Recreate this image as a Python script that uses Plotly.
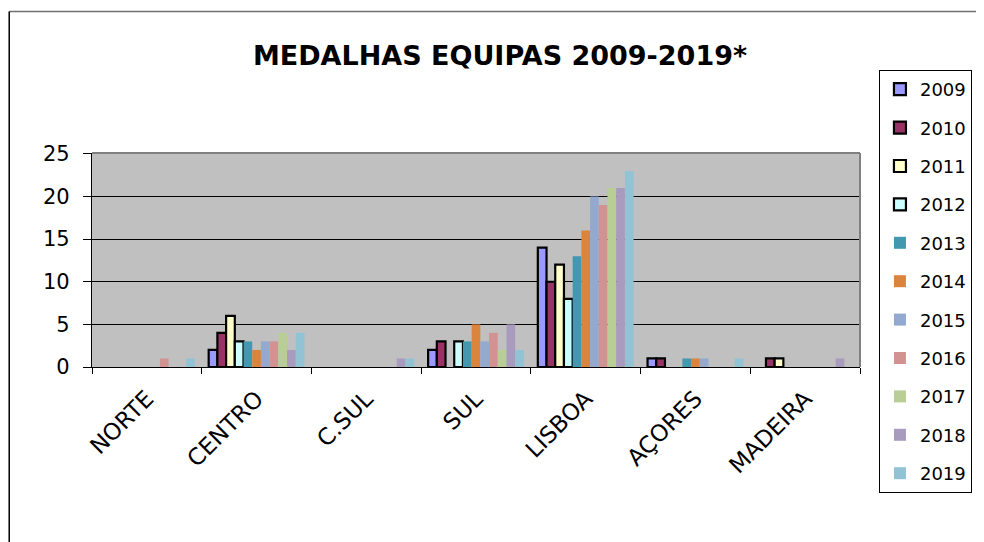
import plotly.graph_objects as go

categories = ["NORTE", "CENTRO", "C.SUL", "SUL", "LISBOA", "AÇORES", "MADEIRA"]
years = ["2009", "2010", "2011", "2012", "2013", "2014", "2015", "2016", "2017", "2018", "2019"]

v2009 = [0, 2, 0, 2, 14, 1, 0]
v2010 = [0, 4, 0, 3, 10, 1, 1]
v2011 = [0, 6, 0, 0, 12, 0, 1]
v2012 = [0, 3, 0, 3, 8, 0, 0]
v2013 = [0, 3, 0, 3, 13, 1, 0]
v2014 = [0, 2, 0, 5, 16, 1, 0]
v2015 = [0, 3, 0, 3, 20, 1, 0]
v2016 = [1, 3, 0, 4, 19, 0, 0]
v2017 = [0, 4, 0, 2, 21, 0, 0]
v2018 = [0, 2, 1, 5, 21, 0, 1]
v2019 = [1, 4, 1, 2, 23, 1, 0]

series = [v2009, v2010, v2011, v2012, v2013, v2014, v2015, v2016, v2017, v2018, v2019]
colors = ["#9999FF", "#993366", "#FFFFCC", "#CCFFFF", "#4198AF", "#DB843D",
          "#93A9CF", "#D19392", "#B9CD96", "#A99BBD", "#92C3D4"]
outlined = [True, True, True, True, False, False, False, False, False, False, False]

FONT = "DejaVu Sans"

fig = go.Figure()
for name, vals, col, ol in zip(years, series, colors, outlined):
    fig.add_trace(go.Bar(
        x=categories, y=[v if v else None for v in vals], name=name, legendgroup=name,
        marker=dict(color=col, line=dict(color="black", width=2.2 if ol else 0)),
    ))

# the page body has an 8px margin; work in reference-pixel coordinates
OFF = 8
W, H = 984 - OFF, 542 - OFF
L, R, T, B = 92 - OFF, 984 - 862, 153 - OFF, 542 - 367
pw = W - L - R
ph = H - T - B

def px_x(px):
    return (px - OFF - L) / pw

def px_y(py):
    return (H - B - (py - OFF)) / ph

fig.update_layout(
    width=W, height=H,
    margin=dict(l=L, r=R, t=T, b=B, pad=0),
    paper_bgcolor="white",
    plot_bgcolor="#C0C0C0",
    barmode="group",
    bargap=0.127,
    bargroupgap=0,
    font=dict(family=FONT, color="black"),
    title=dict(text="<b>MEDALHAS EQUIPAS 2009-2019*</b>", x=(500 - OFF) / W, xanchor="center",
               y=1 - (56 - OFF) / H, yanchor="middle", xref="container", yref="container",
               font=dict(family=FONT, size=27, color="black")),
    legend=dict(x=px_x(881), xanchor="left", y=px_y(70), yanchor="top",
                bordercolor="black", borderwidth=1, bgcolor="white",
                font=dict(family=FONT, size=18, color="black"),
                tracegroupgap=12, itemwidth=30, traceorder="grouped",
                maxheight=520),
    showlegend=True,
)

fig.update_yaxes(range=[0, 25.1], dtick=5, tick0=0, showgrid=True, gridcolor="black",
                 gridwidth=1, ticks="outside", ticklen=8, tickcolor="black",
                 showline=True, linecolor="black", linewidth=1.2, zeroline=False,
                 tickfont=dict(family=FONT, size=21, color="black"),
                 ticklabelstandoff=9, fixedrange=True)
fig.update_xaxes(tickangle=-45, ticks="outside", ticklen=6, tickcolor="black",
                 tickson="boundaries", showline=True, linecolor="black", linewidth=1.2,
                 showgrid=False, tickfont=dict(family=FONT, size=23, color="black"),
                 ticklabelstandoff=8, fixedrange=True)

# plot-area border on top and right (grey)
fig.add_shape(type="line", xref="paper", yref="paper", x0=0, x1=1, y0=1, y1=1,
              line=dict(color="#808080", width=2))
fig.add_shape(type="line", xref="paper", yref="paper", x0=1, x1=1, y0=0, y1=1,
              line=dict(color="#808080", width=2))
# chart-area border (extends beyond the visible window)
fig.add_shape(type="line", xref="paper", yref="paper", x0=px_x(9), x1=px_x(1000),
              y0=px_y(11.5), y1=px_y(11.5), line=dict(color="#707070", width=1.5))
fig.add_shape(type="line", xref="paper", yref="paper", x0=px_x(9), x1=px_x(9),
              y0=px_y(11.5), y1=px_y(560), line=dict(color="black", width=1.5))

fig.write_html("out.html")
